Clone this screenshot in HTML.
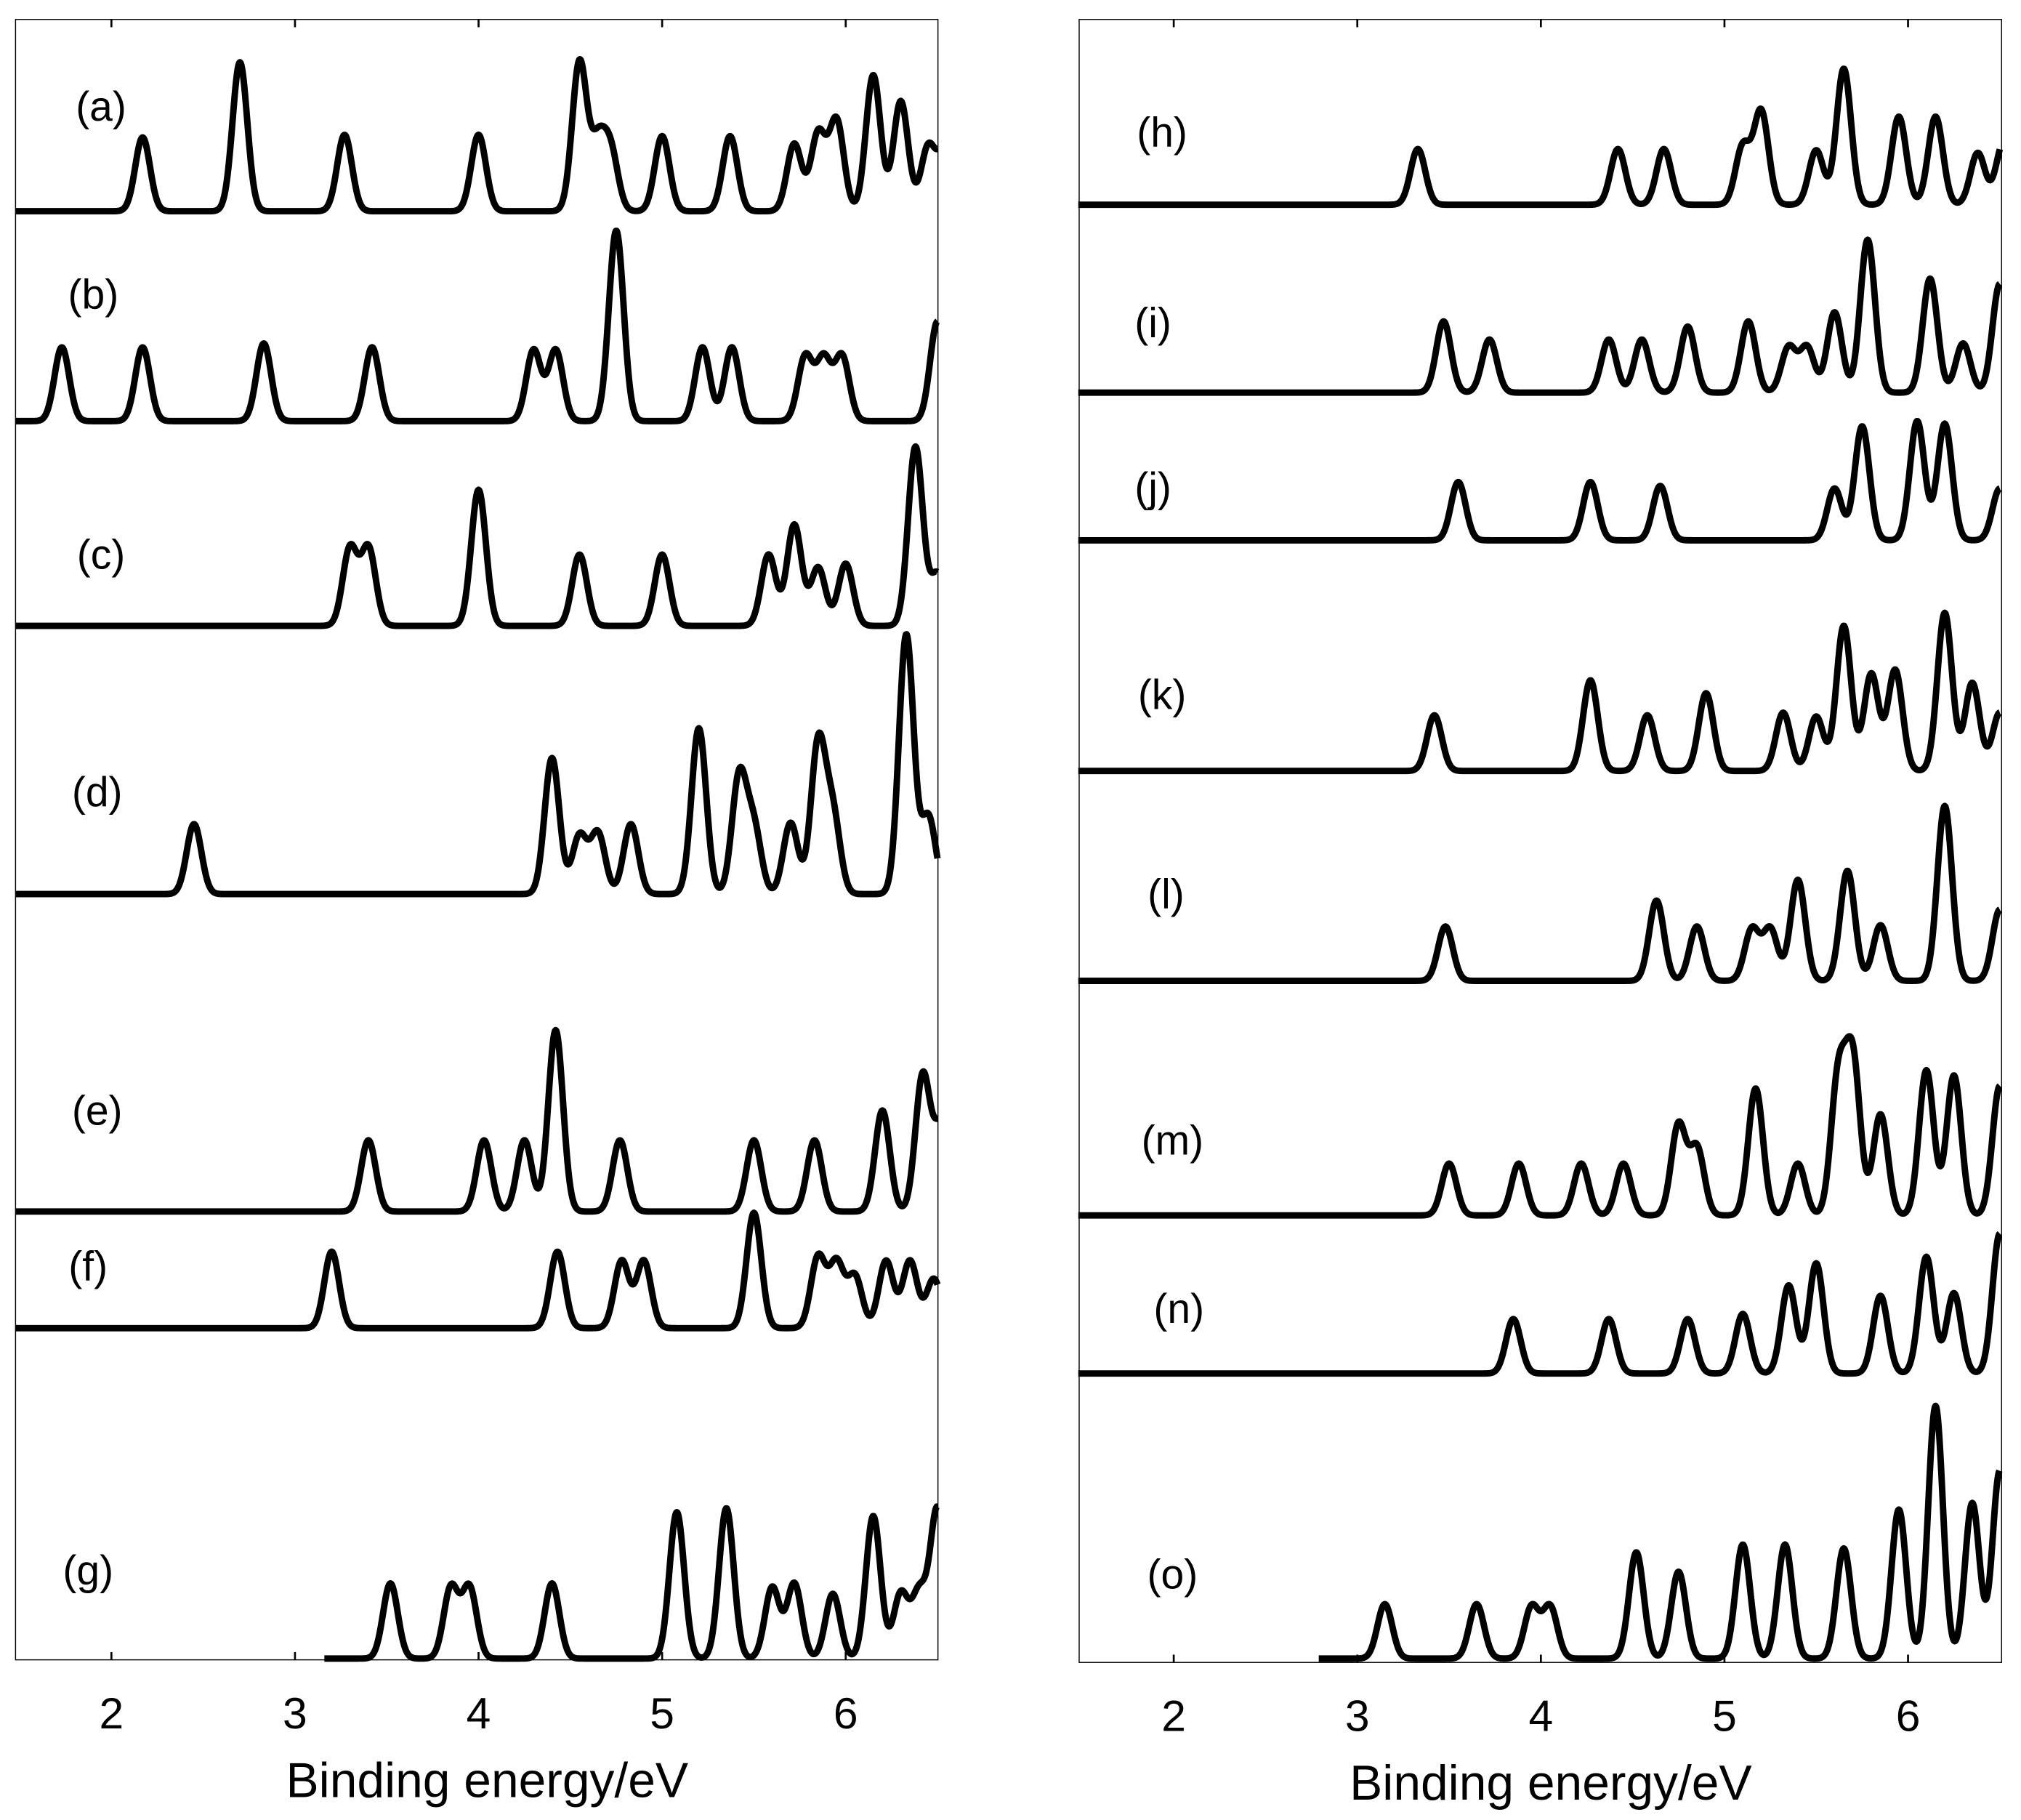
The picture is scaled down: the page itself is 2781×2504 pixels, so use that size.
<!DOCTYPE html>
<html><head><meta charset="utf-8"><style>
html,body{margin:0;padding:0;background:#fff}
svg{display:block}
text{font-family:"Liberation Sans",Arial,sans-serif;fill:#000}
</style></head><body>
<svg id="chart" width="2781" height="2504" viewBox="0 0 1560 1404.6" xmlns="http://www.w3.org/2000/svg"></svg>
<script>
const xTicks=[2,3,4,5,6];
const xTickLabels=["2","3","4","5","6"];
const labelsL=["(a)","(b)","(c)","(d)","(e)","(f)","(g)"];
const labelsR=["(h)","(i)","(j)","(k)","(l)","(m)","(n)","(o)"];
const baseL=[163,325,483,690,935,1025,1280];
const baseR=[158,303,417,595,757,938,1060,1280];
const startL=[1.48,1.48,1.48,1.48,1.48,1.48,3.16];
const startR=[1.48,1.48,1.48,1.48,1.48,1.48,1.48,2.79];
// peaks: energy / height
const eA=[2.17,2.7,3.27,4.0,4.55,4.65,4.72,5.0,5.37,5.72,5.85,5.95,6.15,6.3,6.45,6.55];
const hA=[57,115,59,59,115,50,45,58,58,52,60,70,105,85,50,55];
const eB=[1.73,2.17,2.83,3.42,4.3,4.42,4.75,5.22,5.38,5.78,5.88,5.98,6.5];
const hB=[57,57,60,57,55,55,147,57,57,50,48,50,77];
const eC=[3.3,3.4,4.0,4.55,5.0,5.58,5.72,5.85,6.0,6.38,6.5];
const hC=[60,60,105,55,55,55,78,45,48,138,40];
const eD=[2.45,4.4,4.55,4.65,4.83,5.2,5.42,5.5,5.7,5.85,5.93,6.33,6.45];
const hD=[54,105,45,47,54,128,90,50,55,115,60,200,60];
const eE=[3.4,4.03,4.25,4.42,4.77,5.5,5.83,6.2,6.42,6.52];
const hE=[55,55,55,140,55,55,55,78,105,65];
const eF=[3.2,4.43,4.78,4.9,5.5,5.85,5.95,6.05,6.22,6.35,6.48];
const hF=[59,59,52,52,89,55,50,40,52,52,38];
const eG=[3.52,3.85,3.95,4.4,5.08,5.35,5.6,5.72,5.93,6.15,6.3,6.4,6.5];
const hG=[58,55,55,58,113,116,55,58,50,110,50,50,115];
const eH=[3.33,4.42,4.67,5.1,5.2,5.5,5.65,5.95,6.15,6.38,6.52];
const hH=[43,43,43,45,72,42,105,68,68,40,48];
const eI=[3.47,3.72,4.37,4.55,4.8,5.13,5.35,5.45,5.6,5.78,6.12,6.3,6.5];
const hI=[55,41,41,41,51,55,35,35,62,118,88,38,84];
const eJ=[3.55,4.27,4.65,5.6,5.75,6.05,6.2,6.5];
const hJ=[45,45,42,40,88,92,90,40];
const eK=[3.42,4.27,4.58,4.9,5.32,5.5,5.65,5.8,5.93,6.2,6.35,6.5];
const hK=[43,70,43,60,45,42,112,75,78,122,68,45];
const eL=[3.48,4.63,4.85,5.15,5.25,5.4,5.67,5.85,6.2,6.5];
const hL=[42,62,42,40,40,78,85,43,135,55];
const eM=[3.5,3.88,4.22,4.45,4.75,4.85,5.17,5.4,5.62,5.7,5.85,6.1,6.25,6.5];
const hM=[40,40,40,40,70,52,98,40,105,118,78,112,108,100];
const eN=[3.85,4.37,4.8,5.1,5.35,5.5,5.85,6.1,6.25,6.5];
const hN=[42,42,42,46,68,85,60,90,62,108];
const eO=[3.15,3.65,3.95,4.05,4.52,4.75,5.1,5.33,5.65,5.95,6.15,6.35,6.5];
const hO=[42,42,40,40,82,67,88,88,85,115,195,120,145];
const seriesL=[[eA,hA],[eB,hB],[eC,hC],[eD,hD],[eE,hE],[eF,hF],[eG,hG]];
const seriesR=[[eH,hH],[eI,hI],[eJ,hJ],[eK,hK],[eL,hL],[eM,hM],[eN,hN],[eO,hO]];

const NS="http://www.w3.org/2000/svg";
const svg=document.getElementById('chart');
function mk(tag,attrs,parent){const el=document.createElementNS(NS,tag);for(const k in attrs)el.setAttribute(k,attrs[k]);(parent||svg).appendChild(el);return el;}
const panels=[{x0:12,x1:724,x2:86,top:15,bot:1281,base:baseL,start:startL,ser:seriesL,lab:labelsL,name:'left'},
              {x0:833,x1:1545,x2:906,top:15,bot:1283,base:baseR,start:startR,ser:seriesR,lab:labelsR,name:'right'}];
const PX=141.7, SIG=0.04, EMAX=6.5;
const labPos=[[[78,82],[72,227],[78,428],[75,611],[75,857],[68,977],[68,1212]],
              [[897,102],[890,249],[890,376],[897,536],[900,690],[905,880],[910,1010],[905,1215]]];
panels.forEach((p,pi)=>{
  const xs=e=>p.x2+(e-2)*PX;
  const g=mk('g',{});
  
  
  const fr=mk('rect',{x:p.x0,y:p.top,width:p.x1-p.x0,height:p.bot-p.top,fill:'none',stroke:'#000','stroke-width':0.8},g);
  
  
  xTicks.forEach((t,i)=>{
    const x=xs(t);
    const a=mk('line',{x1:x,x2:x,y1:p.top,y2:p.top+6,stroke:'#000','stroke-width':1.5},g);
    
    
    const b=mk('line',{x1:x,x2:x,y1:p.bot,y2:p.bot-6,stroke:'#000','stroke-width':1.5},g);
    
    
    const tl=mk('text',{x:x,y:p.bot+53,'font-size':34,'text-anchor':'middle'},g);
    tl.textContent=xTickLabels[i];
    
    
  });
  const at=mk('text',{x:(p.x0+p.x1)/2+8,y:p.bot+106,'font-size':38,'text-anchor':'middle'},g);
  at.textContent='Binding energy/eV';
  
  
  p.ser.forEach((s,si)=>{
    const [es,hs]=s;let d='';
    for(let e=p.start[si];e<=EMAX+1e-9;e+=0.004){
      let v=0;for(let k=0;k<es.length;k++){const z=(e-es[k])/SIG;v+=hs[k]*Math.exp(-0.5*z*z);}
      const y=p.base[si]-v;
      d+=(d?'L':'M')+xs(e).toFixed(2)+' '+y.toFixed(2);
    }
    const path=mk('path',{d:d,fill:'none',stroke:'#000','stroke-width':5,'stroke-linejoin':'round'},g);
    
    
    const lp=labPos[pi][si];
    const t=mk('text',{x:lp[0],y:lp[1]+11,'font-size':32,'text-anchor':'middle'},g);
    t.textContent=p.lab[si];
    
    
  });
});
</script>
</body></html>
